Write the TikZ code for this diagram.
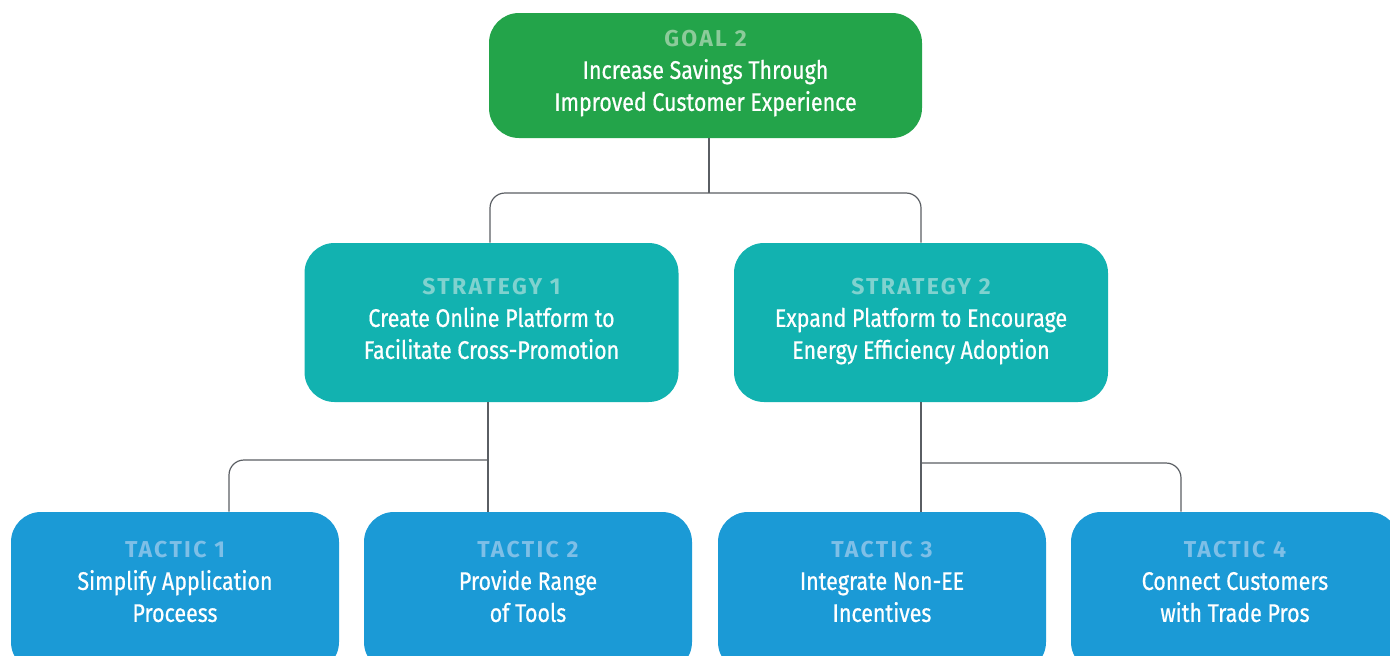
\documentclass[tikz,border=0pt]{standalone}
\usepackage{fontspec}
\newfontfamily\lblfont{Fira Sans}[LetterSpace=10]
\newfontfamily\txtfont{Fira Sans}[FakeStretch=0.84, FakeBold=0.6]
\definecolor{goalgreen}{HTML}{23A44A}
\definecolor{goallbl}{HTML}{8CCB9A}
\definecolor{stratteal}{HTML}{12B2B0}
\definecolor{stratlbl}{HTML}{80D2CF}
\definecolor{tacblue}{HTML}{1B9AD6}
\definecolor{taclbl}{HTML}{7EBFE7}
\definecolor{linkgray}{HTML}{5A5E63}
% label colour, label, first line, second line, space below
\newcommand{\boxtext}[5]{\begin{tabular}{@{}c@{}}{\lblfont\bfseries\fontsize{23}{32}\selectfont\color{#1}#2}\\#3\\#4\\[#5]\end{tabular}}

\tikzset{every picture/.style={line width=0.75pt}}

\begin{document}
\begin{tikzpicture}[
            x=1pt,
            y=1pt,
            yscale=-1,
            xscale=1,
            box/.style={rounded corners=30, inner sep=0pt, text=white,
                font=\txtfont\fontsize{25.5}{32}\selectfont},
            goalbox/.style={box, fill=goalgreen, minimum width=433, minimum height=125},
            stratbox/.style={box, fill=stratteal, minimum width=374, minimum height=159},
            tacbox/.style={box, fill=tacblue, minimum width=328, minimum height=160},
            link/.style={draw=linkgray, line width=1.2pt, rounded corners=15},
            line width=0.75pt
        ]
            \useasboundingbox (0,0) rectangle (1390,656);
            \clip (0,0) rectangle (1390,656);

            % boxes
            \node [goalbox] (goal) at (705.5,75.5) {\boxtext{goallbl}{GOAL 2}{Increase Savings Through}{Improved Customer Experience}{6pt}};
            \node [stratbox] (s1) at (491.5,322.5) {\boxtext{stratlbl}{STRATEGY 1}{Create Online Platform to}{Facilitate Cross-Promotion}{4pt}};
            \node [stratbox] (s2) at (921,322.5) {\boxtext{stratlbl}{STRATEGY 2}{Expand Platform to Encourage}{Energy Efficiency Adoption}{4pt}};
            \node [tacbox] (t1) at (175,592) {\boxtext{taclbl}{TACTIC 1}{Simplify Application}{Proceess}{17pt}};
            \node [tacbox] (t2) at (528,592) {\boxtext{taclbl}{TACTIC 2}{Provide Range}{of Tools}{17pt}};
            \node [tacbox] (t3) at (882,592) {\boxtext{taclbl}{TACTIC 3}{Integrate Non-EE}{Incentives}{17pt}};
            \node [tacbox] (t4) at (1235,592) {\boxtext{taclbl}{TACTIC 4}{Connect Customers}{with Trade Pros}{17pt}};

            % junctions
            \coordinate (gbus) at ([xshift=3.5]goal.south |- 0,193);
            \coordinate (s1bus) at ([xshift=-3.5]s1.south |- 0,460);
            \coordinate (s2bus) at (s2.south |- 0,463);

            % connectors
            \draw [link] ([xshift=3.5]goal.south) -- (gbus);
            \draw [link] ([xshift=-1.5]s1.north) |- (gbus) -| (s2.north);
            \draw [link] ([xshift=-3.5]s1.south) -- (s1bus |- t2.north);
            \draw [link] (s1bus) -| ([xshift=54]t1.north);
            \draw [link] (s2.south) -- (s2bus |- t3.north);
            \draw [link] (s2bus) -| ([xshift=-54]t4.north);
        \end{tikzpicture}
\end{document}
